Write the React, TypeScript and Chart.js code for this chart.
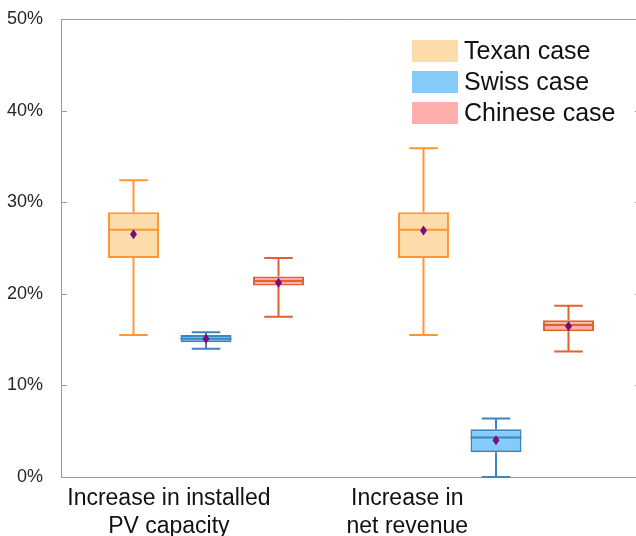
import React, { useEffect, useRef } from "react";
import { Chart, registerables } from "chart.js";
Chart.register(...registerables);

// ---- data ----
const CATEGORIES = [
  ["Increase in installed", "PV capacity"],
  ["Increase in", "net revenue"],
];
const SERIES = ["Texan case", "Swiss case", "Chinese case"];

const texanMin = [15.5, 15.5];
const texanQ1 = [23.9, 23.9];
const texanMedian = [27.0, 27.0];
const texanQ3 = [28.9, 28.9];
const texanMax = [32.4, 35.9];
const texanMean = [26.5, 26.9];

const swissMin = [14.0, 0.0];
const swissQ1 = [14.7, 2.7];
const swissMedian = [15.1, 4.3];
const swissQ3 = [15.5, 5.2];
const swissMax = [15.8, 6.4];
const swissMean = [15.1, 4.0];

const chineseMin = [17.5, 13.7];
const chineseQ1 = [20.9, 15.9];
const chineseMedian = [21.4, 16.6];
const chineseQ3 = [21.9, 17.1];
const chineseMax = [23.9, 18.7];
const chineseMean = [21.2, 16.45];

const Y_MIN = 0;
const Y_MAX = 50;
const Y_STEP = 10;

// ---- styles / layout ----
const FONT = "'Liberation Sans', Arial, Helvetica, sans-serif";
const FILLS = ["#FDDBAA", "#84CBF7", "#FFAEAE"];
const EDGES = ["#FF9632", "#3B86C1", "#E2622F"];
const MEAN_COLOR = "#780C7E";
const FRAME_COLOR = "#9a9a9a";
const LABEL_POS = [0.186, 0.597]; // horizontal position of category labels (fraction of plot width)

const stats = [
  { min: texanMin, q1: texanQ1, median: texanMedian, q3: texanQ3, max: texanMax, mean: texanMean },
  { min: swissMin, q1: swissQ1, median: swissMedian, q3: swissQ3, max: swissMax, mean: swissMean },
  { min: chineseMin, q1: chineseQ1, median: chineseMedian, q3: chineseQ3, max: chineseMax, mean: chineseMean },
];

const framePlugin = {
  id: "frame",
  beforeDatasetsDraw(chart: any) {
    const { ctx, chartArea: a, scales } = chart;
    const y = scales.y;
    ctx.save();
    ctx.strokeStyle = FRAME_COLOR;
    ctx.lineWidth = 1;
    ctx.beginPath();
    ctx.rect(Math.round(a.left) + 0.5, Math.round(a.top) + 0.5, Math.round(a.right - a.left), Math.round(a.bottom - a.top));
    ctx.stroke();
    ctx.beginPath();
    y.ticks.forEach((t: any) => {
      const py = Math.round(y.getPixelForValue(t.value)) + 0.5;
      ctx.moveTo(a.left, py);
      ctx.lineTo(a.left + 6, py);
      ctx.moveTo(a.right, py);
      ctx.lineTo(a.right - 6, py);
    });
    ctx.stroke();
    ctx.restore();
  },
  afterDraw(chart: any) {
    const { ctx, chartArea: a } = chart;
    ctx.save();
    ctx.fillStyle = "#111";
    ctx.font = `23px ${FONT}`;
    ctx.textAlign = "center";
    ctx.textBaseline = "alphabetic";
    CATEGORIES.forEach((lines, i) => {
      const x = a.left + LABEL_POS[i] * (a.right - a.left);
      lines.forEach((line, k) => {
        ctx.fillText(line, x, a.bottom + 28 + k * 27.6);
      });
    });
    ctx.restore();
  },
};

const boxPlugin = {
  id: "boxExtras",
  afterDatasetsDraw(chart: any) {
    const { ctx, scales } = chart;
    const y = scales.y;
    ctx.save();
    chart.data.datasets.forEach((ds: any, d: number) => {
      const meta = chart.getDatasetMeta(d);
      const s = ds.stats;
      meta.data.forEach((el: any, j: number) => {
        const x = el.x;
        const w = el.width;
        const cap = w * 0.56;
        const pMin = y.getPixelForValue(s.min[j]);
        const pQ1 = y.getPixelForValue(s.q1[j]);
        const pQ3 = y.getPixelForValue(s.q3[j]);
        const pMax = y.getPixelForValue(s.max[j]);
        const pMed = y.getPixelForValue(s.median[j]);
        const pMean = y.getPixelForValue(s.mean[j]);
        ctx.strokeStyle = ds.borderColor;
        ctx.lineWidth = 2;
        ctx.beginPath();
        ctx.moveTo(x, pQ3);
        ctx.lineTo(x, pMax);
        ctx.moveTo(x - cap / 2, pMax);
        ctx.lineTo(x + cap / 2, pMax);
        ctx.moveTo(x, pQ1);
        ctx.lineTo(x, pMin);
        ctx.moveTo(x - cap / 2, pMin);
        ctx.lineTo(x + cap / 2, pMin);
        ctx.moveTo(x - w / 2, pMed);
        ctx.lineTo(x + w / 2, pMed);
        ctx.stroke();
        // mean diamond
        ctx.fillStyle = MEAN_COLOR;
        ctx.beginPath();
        ctx.moveTo(x, pMean - 5);
        ctx.lineTo(x + 3.5, pMean);
        ctx.lineTo(x, pMean + 5);
        ctx.lineTo(x - 3.5, pMean);
        ctx.closePath();
        ctx.fill();
      });
    });
    ctx.restore();
  },
};

export default function App() {
  const ref = useRef<HTMLCanvasElement>(null);
  useEffect(() => {
    if (!ref.current) return;
    const chart = new Chart(ref.current, {
      type: "bar",
      data: {
        labels: CATEGORIES.map((c) => c.join(" ")),
        datasets: SERIES.map((name, i) => ({
          label: name,
          data: stats[i].q1.map((v, j) => [v, stats[i].q3[j]]),
          backgroundColor: FILLS[i],
          borderColor: EDGES[i],
          borderWidth: 2,
          borderSkipped: false,
          categoryPercentage: 0.75,
          barPercentage: 0.703,
          stats: stats[i],
        })) as any,
      },
      options: {
        animation: false,
        responsive: false,
        devicePixelRatio: 1,
        layout: { padding: { top: 19, right: 4, left: 0, bottom: 0 } },
        plugins: { legend: { display: false }, tooltip: { enabled: false } },
        scales: {
          x: {
            type: "category",
            offset: true,
            grid: { display: false, drawTicks: false },
            border: { display: false },
            ticks: { display: false },
            afterFit: (scale: any) => {
              scale.height = 59;
              scale.paddingLeft = 0;
              scale.paddingRight = 0;
            },
          } as any,
          y: {
            min: Y_MIN,
            max: Y_MAX,
            grid: { display: false, drawTicks: false },
            border: { display: false },
            afterFit: (scale: any) => {
              scale.width = 61;
              scale.paddingTop = 0;
              scale.paddingBottom = 0;
            },
            ticks: {
              stepSize: Y_STEP,
              padding: 18,
              color: "#262626",
              font: { family: FONT, size: 18 },
              callback: (v: any) => `${v}%`,
            },
          } as any,
        },
      },
      plugins: [framePlugin, boxPlugin],
    });
    return () => chart.destroy();
  }, []);

  return (
    <div style={{ position: "absolute", left: 0, top: 0, width: 636, height: 536, overflow: "hidden", background: "#fff" }}>
      <canvas ref={ref} width={645} height={536} style={{ display: "block", width: 645, height: 536 }} />
      <div style={{ position: "absolute", left: 412, top: 35, fontFamily: FONT, fontSize: 25, color: "#111" }}>
        {SERIES.map((name, i) => (
          <div key={name} style={{ display: "flex", alignItems: "center", height: 31 }}>
            <div style={{ width: 46, height: 22, background: FILLS[i] }} />
            <span style={{ marginLeft: 6, lineHeight: "31px" }}>{name}</span>
          </div>
        ))}
      </div>
    </div>
  );
}
